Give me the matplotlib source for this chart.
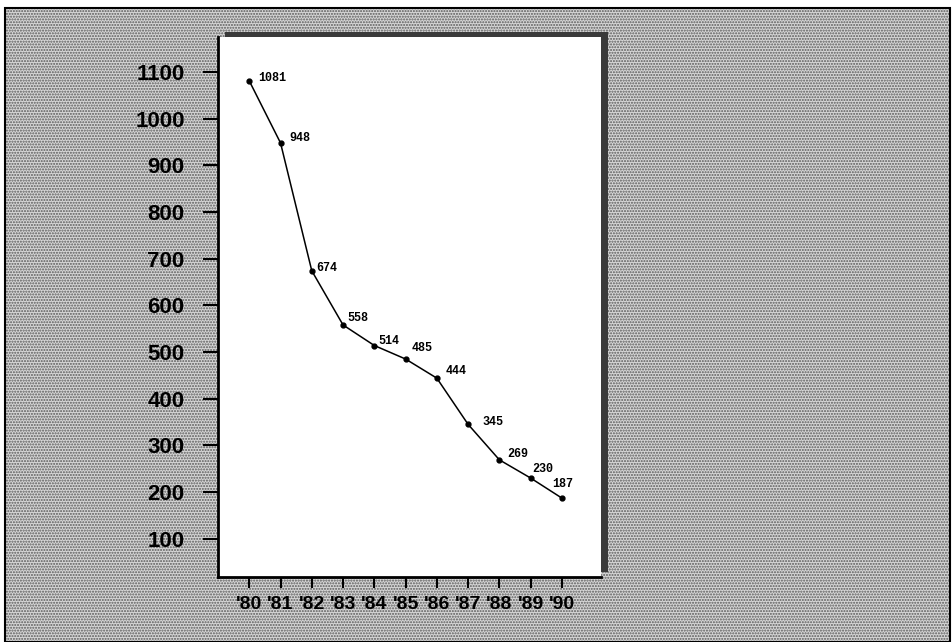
import matplotlib
matplotlib.use("Agg")
import matplotlib.pyplot as plt
from matplotlib.patches import Rectangle

# Yearly values, 1980-1990
years = [1980, 1981, 1982, 1983, 1984, 1985, 1986, 1987, 1988, 1989, 1990]
year_labels = ["'80", "'81", "'82", "'83", "'84", "'85", "'86", "'87", "'88", "'89", "'90"]
values = [1081, 948, 674, 558, 514, 485, 444, 345, 269, 230, 187]
y_ticks = [100, 200, 300, 400, 500, 600, 700, 800, 900, 1000, 1100]

# per-point label offsets (points)
label_offsets = [(6.5, 2), (6.5, 3.5), (3.5, 2), (3, 5), (3, 3.5), (4.5, 8),
                 (6, 5), (10, 2), (6, 4.5), (1, 6.5), (-7, 10)]

W, H, DPI = 953, 642, 100
fig = plt.figure(figsize=(W / DPI, H / DPI), dpi=DPI, facecolor="white")

# textured gray backdrop with a thin frame
fig.patches.append(Rectangle((5 / W, 0), 945 / W, 634 / H, transform=fig.transFigure,
                             facecolor="#d6d6d6", edgecolor="#5a5a5a", hatch="......",
                             linewidth=0, zorder=0))
fig.patches.append(Rectangle((5 / W, 0), 945 / W, 634 / H, transform=fig.transFigure,
                             facecolor="none", edgecolor="black", linewidth=1.5, zorder=1))

ax_left, ax_bottom = 218 / W, 1 - 577 / H
ax_w, ax_h = (601 - 218) / W, (577 - 37) / H

# drop shadow behind the plot panel
fig.patches.append(Rectangle((ax_left + 7 / W, ax_bottom + 5 / H), ax_w, ax_h,
                             transform=fig.transFigure, facecolor="#3a3a3a",
                             edgecolor="none", zorder=2))

ax = fig.add_axes([ax_left, ax_bottom, ax_w, ax_h], zorder=3)
ax.set_facecolor("white")

ax.plot(years, values, color="black", linewidth=1.1, marker="o", markersize=3.5,
        markerfacecolor="black", markeredgecolor="black")

for x, v, (dx, dy) in zip(years, values, label_offsets):
    ax.annotate(str(v), (x, v), xytext=(dx, dy), textcoords="offset points",
                ha="left", va="center", fontsize=8.5, fontweight="bold",
                family="Liberation Mono")

ax.set_xlim(1979.0, 1991.25)
ax.set_ylim(18, 1175)

ax.set_yticks(y_ticks)
ax.set_yticklabels([str(t) for t in y_ticks], fontsize=16, fontweight="bold",
                   family="Liberation Sans")
ax.set_xticks(years)
ax.set_xticklabels(year_labels, fontsize=14, fontweight="bold", family="Liberation Sans")

ax.tick_params(axis="y", direction="out", length=11, width=1.5, pad=13)
ax.tick_params(axis="x", direction="out", length=8, width=1.5, pad=6)

for side in ("top", "right"):
    ax.spines[side].set_visible(False)
for side in ("left", "bottom"):
    ax.spines[side].set_linewidth(2)

fig.savefig("out.png", dpi=DPI, facecolor="white")
